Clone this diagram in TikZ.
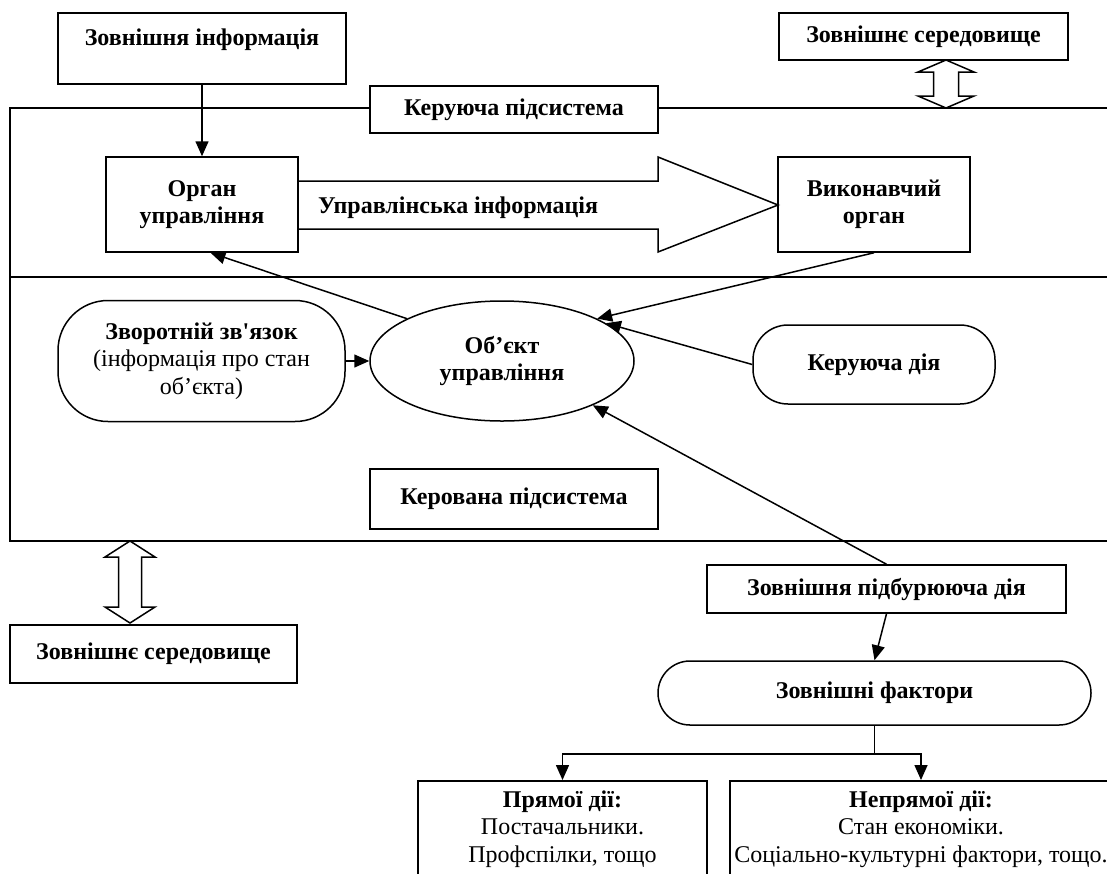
\documentclass[tikz,border=0pt]{standalone}
\usepackage{fontspec}
\setmainfont{Liberation Serif}
\newfontfamily\rawserif{Liberation Serif}
\usetikzlibrary{shapes.geometric,arrows.meta}

\tikzset{
  plain/.style={draw, fill=white, align=center, inner sep=2pt, font=\fontsize{24}{27.5}\selectfont},
  box/.style={plain, font=\fontsize{24}{27.5}\selectfont\bfseries},
  pill/.style={plain, rounded corners=#1},
}

\begin{document}
\begin{tikzpicture}[x=1pt,y=-1pt,line width=1.5pt,>={Triangle[length=15pt,width=13pt]}]
\useasboundingbox (0,0) rectangle (1107,873);

% 绘制系统外框
\draw (1107,108) -- (10,108) -- (10,541) -- (1107,541);
\draw (10,277) -- (1107,277);

% 上方方框
\node[box, minimum width=288, minimum height=71, text depth=23pt] (info) at (202,48.5) {Зовнішня інформація};
\node[box, minimum width=289, minimum height=47] (envtop) at (923.5,36.5) {Зовнішнє середовище};
\node[box, minimum width=288, minimum height=47] (ksub) at (514,109.5) {Керуюча підсистема};

% 双向空心箭头
\draw (946,60) -- (974,72) -- (958.5,72) -- (958.5,96) -- (974,96) -- (946,108)
  -- (918,96) -- (933.5,96) -- (933.5,72) -- (918,72) -- cycle;
\draw (130,541) -- (155,557) -- (141.5,557) -- (141.5,607) -- (155,607) -- (130,623)
  -- (105,607) -- (118.5,607) -- (118.5,557) -- (105,557) -- cycle;

% 管理机构与执行机构
\node[box, minimum width=192, minimum height=95] (org) at (202,204.5) {Орган\\управління};
\node[box, minimum width=192, minimum height=95] (vyk) at (874,204.5) {Виконавчий\\орган};

% 大空心箭头
\draw (298,181) -- (658,181) -- (658,157) -- (778,205) -- (658,252) -- (658,229) -- (298,229);
\node[font=\fontsize{24}{27.5}\selectfont\bfseries] (upr) at (458,208) {Управлінська інформація};

% 被管理子系统
\node[pill=50, minimum width=287, minimum height=121] (fb) at (201.5,361)
  {\textbf{Зворотній зв{\rawserif '}язок}\\(інформація про стан\\об’єкта)};
\node[plain, ellipse, inner sep=0pt, minimum width=264, minimum height=120] (obj) at (502,361)
  {\textbf{Об’єкт}\\\textbf{управління}};
\node[pill=35, minimum width=242, minimum height=79] (kd) at (874,364.5) {\textbf{Керуюча дія}};
\node[box, minimum width=288, minimum height=60] (kvs) at (514,499) {Керована підсистема};

% 外部环境
\node[box, minimum width=287, minimum height=58] (envbot) at (153.5,654) {Зовнішнє середовище};
\node[box, minimum width=359, minimum height=48] (zpd) at (886.5,589) {Зовнішня підбурююча дія};
\node[pill=32, minimum width=433, minimum height=64] (zf) at (874.5,693) {\textbf{Зовнішні фактори}};
\node[plain, anchor=north, minimum width=289, minimum height=96] (pd) at (562.5,780)
  {\textbf{Прямої дії:}\\Постачальники.\\Профспілки, тощо};
\node[plain, anchor=north, minimum width=382, minimum height=96] (npd) at (921,780)
  {\textbf{Непрямої дії:}\\Стан економіки.\\Соціально-культурні фактори, тощо.};

% 箭头
\draw[->] (info) -- (org);
\draw[->] (fb.east) -- (obj.west);
\draw[->] (obj.156) -- (org.-80);
\draw[->] (vyk.south) -- (obj.24);
\draw[->] (kd.west) -- (obj.20);
\draw[->] (zpd.north) -- (obj.-26);
\draw[->] (zpd.south) -- (zf.north);
\draw (zf.south) -- ++(0,28) coordinate (fork);
\draw[->] (fork) -| (pd.north);
\draw[->] (fork) -| (npd.north);

\end{tikzpicture}
\end{document}
